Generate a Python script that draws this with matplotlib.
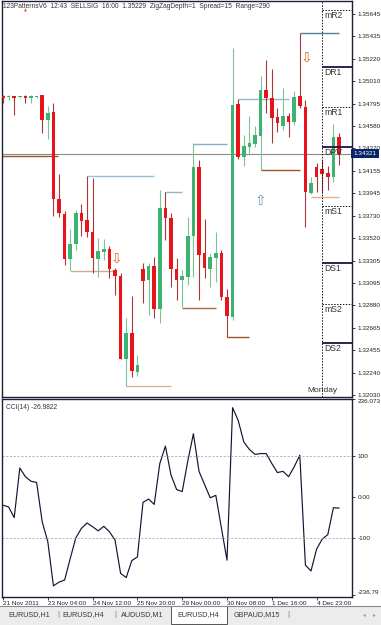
import matplotlib
matplotlib.use("Agg")
import matplotlib.pyplot as plt
from matplotlib.patches import Rectangle
from matplotlib.lines import Line2D
from matplotlib.transforms import blended_transform_factory

plt.rcParams["font.family"] = ["Liberation Sans", "DejaVu Sans"]

# EURUSD H4 bars
opens = [1.34867, 1.34858, 1.34867, 1.34858, 1.34867, 1.34848, 1.34858, 1.34877, 1.34639, 1.34715,
         1.33890, 1.33748, 1.33321, 1.33463, 1.33757, 1.33691, 1.33577, 1.33321, 1.33387, 1.33416,
         1.33216, 1.33159, 1.32372, 1.32619, 1.32249, 1.33226, 1.33121, 1.33254, 1.32846, 1.33805,
         1.33710, 1.33226, 1.33121, 1.33150, 1.33539, 1.34193, 1.33378, 1.33226, 1.33330, 1.33378,
         1.32960, 1.32770, 1.34791, 1.34288, 1.34383, 1.34412, 1.34488, 1.34924, 1.34848, 1.34668,
         1.34582, 1.34677, 1.34620, 1.34867, 1.34763, 1.33947, 1.34193, 1.34174, 1.34137, 1.34099,
         1.34478]
highs = [1.34877, 1.34877, 1.34872, 1.34867, 1.34877, 1.34877, 1.34867, 1.34877, 1.34772, 1.34801,
         1.34127, 1.33776, 1.33605, 1.33786, 1.33842, 1.34108, 1.34089, 1.33520, 1.33510, 1.33444,
         1.33235, 1.33188, 1.32761, 1.32970, 1.32410, 1.33283, 1.33283, 1.33340, 1.33975, 1.33956,
         1.33757, 1.33330, 1.33216, 1.33719, 1.34421, 1.34260, 1.33700, 1.33378, 1.33577, 1.33406,
         1.33036, 1.35323, 1.34839, 1.34497, 1.34677, 1.34582, 1.35057, 1.35209, 1.35123, 1.34753,
         1.34943, 1.34706, 1.34915, 1.35470, 1.34829, 1.34099, 1.34231, 1.34260, 1.34203, 1.34601,
         1.34516]
lows = [1.34801, 1.34829, 1.34687, 1.34848, 1.34801, 1.34801, 1.34848, 1.34516, 1.34459, 1.33729,
        1.33719, 1.33264, 1.33216, 1.33406, 1.33539, 1.33529, 1.33188, 1.33150, 1.33311, 1.33140,
        1.32979, 1.32372, 1.32116, 1.32201, 1.32211, 1.32903, 1.32789, 1.32761, 1.32713, 1.33501,
        1.33055, 1.32932, 1.32865, 1.33074, 1.33150, 1.32932, 1.33140, 1.33055, 1.33102, 1.32932,
        1.32581, 1.32742, 1.34269, 1.34203, 1.34307, 1.34383, 1.34165, 1.34706, 1.34421, 1.34526,
        1.34545, 1.34478, 1.34592, 1.34753, 1.33624, 1.33937, 1.33956, 1.33947, 1.33975, 1.34051,
        1.34212]
closes = [1.34848, 1.34872, 1.34848, 1.34858, 1.34848, 1.34867, 1.34858, 1.34639, 1.34706, 1.33890,
          1.33757, 1.33321, 1.33463, 1.33757, 1.33681, 1.33577, 1.33330, 1.33397, 1.33416, 1.33226,
          1.33159, 1.32372, 1.32619, 1.32258, 1.32315, 1.33112, 1.33254, 1.32846, 1.33805, 1.33710,
          1.33226, 1.33121, 1.33159, 1.33539, 1.34193, 1.33359, 1.33235, 1.33340, 1.33378, 1.32960,
          1.32780, 1.34782, 1.34288, 1.34393, 1.34421, 1.34497, 1.34924, 1.34848, 1.34658, 1.34611,
          1.34677, 1.34620, 1.34858, 1.34772, 1.33956, 1.34042, 1.34099, 1.34127, 1.34099, 1.34478,
          1.34321]

cci = [-20, -24, -50, 70, 49, 38, 35, -60, -108, -215,
       -206, -201, -149, -99, -76, -63, -72, -82, -71, -84,
       -104, -185, -195, -154, -145, -13, -5, -18, 81, 123,
       53, 18, 13, 87, 153, 62, 30, -2, 4, -75,
       -153, 216, 185, 133, 115, 103, 105, 105, 81, 59,
       62, 49, 73, 101, -165, -179, -126, -102, -91, -26,
       -27]

time_label_bars = [0, 8, 16, 24, 32, 40, 48, 56]
time_labels = ["21 Nov 2011", "23 Nov 04:00", "24 Nov 12:00", "25 Nov 20:00",
               "29 Nov 00:00", "30 Nov 08:00", "1 Dec 16:00", "4 Dec 23:00"]

price_ticks = [1.35645, 1.35435, 1.35220, 1.35010, 1.34795, 1.34580, 1.34370, 1.34155, 1.33945,
               1.33730, 1.33520, 1.33305, 1.33095, 1.32880, 1.32665, 1.32455, 1.32240, 1.32030]
cci_ticks = [236.073, 100, 0, -100, -236.79]
cci_tick_labels = ["236.073", "100", "0.00", "-100", "-236.79"]

# daily pivot levels (start at the Monday separator)
pivot_names = ["mR2", "DR1", "mR1", "DPV", "mS1", "DS1", "mS2", "DS2"]
pivot_prices = [1.35683, 1.35142, 1.34763, 1.34383, 1.33828, 1.33283, 1.32894, 1.32528]
pivot_solid = [False, True, False, True, False, True, False, True]
monday_bar = 56.96

# zigzag swing levels of the 123 pattern indicator
swing_prices = [1.34298, 1.34108, 1.33207, 1.33956, 1.32116, 1.32856,
                1.34416, 1.32581, 1.34839, 1.34165, 1.35470, 1.33909]
swing_start = [-0.2, 15, 12, 29, 22, 32, 34, 40, 42, 46, 53, 55]
swing_end = [9.8, 27, 20, 32, 30, 38, 40, 44, 51, 53, 60, 60]
swing_colors = ["#a0522d", "#9cbfd8", "#d2aa94", "#8fb4cf", "#d8ae96", "#a8684a",
                "#86adca", "#a0522d", "#92bad4", "#a0522d", "#4f8199", "#e2b08c"]

signal_bars = [20.2, 54.1, 45.9]
signal_prices = [1.33325, 1.35237, 1.33871]
signal_kind = ["sell", "sell", "buy"]

W, H = 381, 625
fig = plt.figure(figsize=(W / 100, H / 100), dpi=100)
fig.patch.set_facecolor("white")

ax = fig.add_axes([2 / W, 1 - 397 / H, 350 / W, 396 / H])
ax2 = fig.add_axes([2 / W, 1 - 597 / H, 350 / W, 198 / H])

n = len(opens)
bull_body, bear_body = "#3cb371", "#e8141c"
bull_wick, bear_wick = "#7cc496", "#a83838"

for i in range(n):
    o, h, l, c = opens[i], highs[i], lows[i], closes[i]
    up = c >= o
    ax.vlines(i, l, h, color=bull_wick if up else bear_wick, lw=0.8, zorder=3)
    ax.bar(i, max(abs(c - o), 0.00006), bottom=min(o, c), width=0.66,
           color=bull_body if up else bear_body, linewidth=0, zorder=4)

for p, s, e, col in zip(swing_prices, swing_start, swing_end, swing_colors):
    ax.hlines(p, s, e, color=col, lw=1.0, zorder=2)

# current price line
ax.axhline(closes[-1], color="#8a8a8a", lw=0.8, zorder=1)

for b, p, k in zip(signal_bars, signal_prices, signal_kind):
    glyph = "\u21e9" if k == "sell" else "\u21e7"
    col = "#d2691e" if k == "sell" else "#5f9ec8"
    ax.text(b, p, glyph, fontsize=10, color=col, ha="center", va="center",
            family="DejaVu Sans", zorder=6)

ax.axvline(monday_bar, color="#111111", lw=0.7, ls=(0, (1.5, 1.5)), zorder=5)
for name, p, solid in zip(pivot_names, pivot_prices, pivot_solid):
    if solid:
        ax.hlines(p, monday_bar, 62.32, color="#14144a", lw=1.3, zorder=5)
    else:
        ax.hlines(p, monday_bar, 62.32, color="#111111", lw=0.7, ls=(0, (1.5, 1.5)), zorder=5)
    ax.text(monday_bar + 0.45, p - 0.00012, name, fontsize=6.2, color="#333333",
            ha="left", va="top", zorder=5)

ax.set_xlim(-0.18, 62.32)
ax.set_ylim(1.32011, 1.35769)
ax.text(monday_bar, 1.32040, "Monday", fontsize=6, color="#333333", ha="center", va="bottom")

ax.set_xticks([])
ax.yaxis.tick_right()
ax.set_yticks(price_ticks)
ax.set_yticklabels(["%.5f" % t for t in price_ticks])
ax.tick_params(axis="y", labelsize=4.6, length=2.5, width=0.6, pad=1.5, colors="#222222")

tr = blended_transform_factory(ax.transAxes, ax.transData)
ax.text(1.004, closes[-1], "%.5f" % closes[-1], transform=tr, fontsize=4.6, color="white",
        ha="left", va="center", zorder=10, clip_on=False,
        bbox=dict(boxstyle="square,pad=0.35", fc="#0a246a", ec="none"))

ax.text(0.003, 0.996, "123PatternsV6  12:43  SELLSIG  16:00  1.35229  ZigZagDepth=1  Spread=15  Range=290",
        transform=ax.transAxes, fontsize=4.8, color="#333333", ha="left", va="top")
fig.text(25 / W, 1 - 11 / H, "\u25b2", fontsize=2.8, color="#e05a20", ha="center", va="center",
         family="DejaVu Sans")

# CCI panel
ax2.plot(range(n), cci, color="#141432", lw=0.85)
ax2.axhline(100, color="#a8a8a8", lw=0.6, ls=(0, (2.5, 2)))
ax2.axhline(-100, color="#a8a8a8", lw=0.6, ls=(0, (2.5, 2)))
ax2.set_xlim(-0.18, 62.32)
ax2.set_ylim(-242, 237)
ax2.yaxis.tick_right()
ax2.set_yticks(cci_ticks)
ax2.set_yticklabels(cci_tick_labels)
ax2.tick_params(axis="y", labelsize=4.6, length=2.5, width=0.6, pad=1.5, colors="#222222")
ylabs = ax2.get_yticklabels()
ylabs[0].set_verticalalignment("top")
ylabs[-1].set_verticalalignment("bottom")
ax2.set_xticks(time_label_bars)
ax2.set_xticklabels(time_labels)
for lab in ax2.get_xticklabels():
    lab.set_horizontalalignment("left")
ax2.tick_params(axis="x", labelsize=4.6, length=2, width=0.6, pad=1.0, colors="#222222")
ax2.text(0.01, 0.975, "CCI(14) -26.9822", transform=ax2.transAxes, fontsize=4.8,
         color="#333344", ha="left", va="top")

for a in (ax, ax2):
    for sp in a.spines.values():
        sp.set_color("#1e1e36")
        sp.set_linewidth(1.0)

# terminal tab bar
fig.patches.append(Rectangle((0, 0), 1, 19 / H, transform=fig.transFigure,
                             fc="#ececec", ec="none", zorder=0))
fig.add_artist(Line2D([0, 1], [19 / H, 19 / H], color="#8c8c8c", lw=0.8))
fig.patches.append(Rectangle((171 / W, 1 / H), 56 / W, 18.5 / H, transform=fig.transFigure,
                             fc="white", ec="#555555", lw=0.7, zorder=1))
tab_names = ["EURUSD,H1", "EURUSD,H4", "AUDUSD,M1", "EURUSD,H4", "GBPAUD,M15"]
tab_centers = [29.5, 83, 142, 198, 257]
for name, xc in zip(tab_names, tab_centers):
    fig.text(xc / W, 1 - 615 / H, name, fontsize=5.2, color="#3a3a3a", ha="center", va="center")
for xs in [58, 115, 288]:
    fig.text(xs / W, 1 - 615 / H, "|", fontsize=6, color="#777777", ha="center", va="center")
fig.text(364 / W, 1 - 615 / H, "\u25c2", fontsize=4, color="#999999", ha="center", va="center",
         family="DejaVu Sans")
fig.text(374 / W, 1 - 615 / H, "\u25b8", fontsize=4, color="#999999", ha="center", va="center",
         family="DejaVu Sans")

fig.savefig("out.png", dpi=100)
